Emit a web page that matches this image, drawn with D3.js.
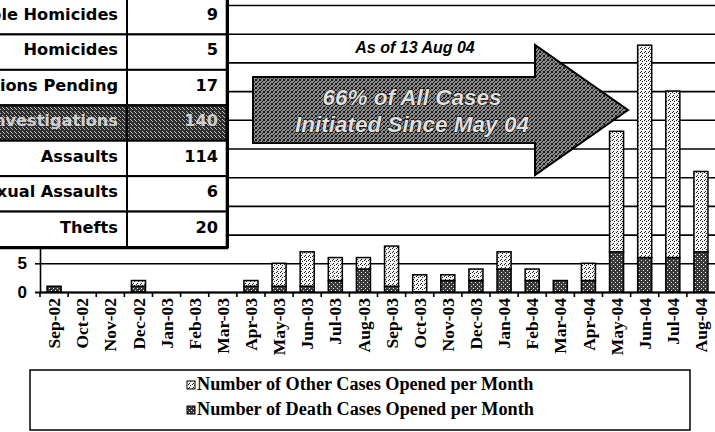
<!DOCTYPE html>
<html>
<head>
<meta charset="utf-8">
<script src="https://cdn.jsdelivr.net/npm/d3@7"></script>
<style>
  body { margin: 0; background: #fff; }
  svg { display: block; }
</style>
</head>
<body>
<div class="canvas"></div>
<script>
// values
const months = [
  "Sep-02", "Oct-02", "Nov-02", "Dec-02", "Jan-03", "Feb-03", "Mar-03", "Apr-03",
  "May-03", "Jun-03", "Jul-03", "Aug-03", "Sep-03", "Oct-03", "Nov-03", "Dec-03",
  "Jan-04", "Feb-04", "Mar-04", "Apr-04", "May-04", "Jun-04", "Jul-04", "Aug-04",
];
const deathCases = [1, 0, 0, 1, 0, 0, 0, 1, 1, 1, 2, 4, 1, 0, 2, 2, 4, 2, 2, 2, 7, 6, 6, 7];
const otherCases = [0, 0, 0, 1, 0, 0, 0, 1, 4, 6, 4, 2, 7, 3, 1, 2, 3, 2, 0, 3, 21, 37, 29, 14];
const yTicks = [0, 5, 10, 15, 20, 25, 30, 35, 40, 45, 50];

const tableLabels = [
  "Justifiable Homicides", "Homicides", "Determinations Pending",
  "Other Investigations", "Assaults", "Sexual Assaults", "Thefts",
];
const tableValues = [9, 5, 17, 140, 114, 6, 20];
const highlightRow = 3;

const legendLabels = [
  "Number of Other Cases Opened per Month",
  "Number of Death Cases Opened per Month",
];

const width = 715, height = 432;
const svg = d3.select(".canvas").append("svg")
  .attr("width", width).attr("height", height);

// speckled fills to imitate the photocopied hatching
const defs = svg.append("defs");
const addPattern = (id, bg, fg, dots) => {
  const p = defs.append("pattern").attr("id", id)
    .attr("width", 4).attr("height", 4).attr("patternUnits", "userSpaceOnUse");
  p.append("rect").attr("width", 4).attr("height", 4).attr("fill", bg);
  dots.forEach(([dx, dy]) => p.append("rect").attr("x", dx).attr("y", dy)
    .attr("width", 1).attr("height", 1).attr("fill", fg));
};
addPattern("otherFill", "#f2f2f2", "#222", [[0, 0], [2, 1], [1, 3]]);
addPattern("deathFill", "#3a3a3a", "#e8e8e8", [[1, 0], [3, 2]]);
addPattern("arrowFill", "#8c8c8c", "#1a1a1a", [[0, 0], [2, 1], [1, 2], [3, 3], [0, 3], [3, 0]]);
addPattern("rowFill", "#2e2e2e", "#bbb", [[0, 1], [2, 3], [3, 0]]);

const left = 40, right = 715, base = 292, tableBottom = 247;
const x = d3.scaleBand().domain(months).range([left, right])
  .paddingInner(0.5).paddingOuter(0.25);
const y = d3.scaleLinear().domain([0, 50]).range([base, 5]);
const gap = (x.step() - x.bandwidth()) / 2;

// gridlines + y labels
const yAxis = svg.append("g").attr("transform", `translate(${left},0)`)
  .call(d3.axisLeft(y).tickValues(yTicks).tickSize(5).tickPadding(8));
yAxis.selectAll(".tick").append("line").attr("x1", 0).attr("x2", right - left)
  .attr("stroke", "#000").attr("stroke-width", 1.6);
yAxis.selectAll(".tick line").attr("stroke", "#000").attr("stroke-width", 1.6);
yAxis.select(".domain").attr("stroke", "#000").attr("stroke-width", 1.6);
yAxis.selectAll("text").attr("font-family", "Liberation Sans, Arial, sans-serif")
  .attr("font-weight", "bold").attr("font-size", 17).attr("fill", "#000");
// labels that sit under the table are not visible in the original
yAxis.selectAll(".tick text").filter((d) => y(d) < tableBottom).remove();

// stacked bars
const stacked = months.map((m, i) => ({ month: m, death: deathCases[i], other: otherCases[i] }));
const barG = svg.append("g");
barG.selectAll("rect.death").data(stacked.filter((d) => d.death > 0)).join("rect").attr("class", "death")
  .attr("x", (d) => x(d.month)).attr("width", x.bandwidth())
  .attr("y", (d) => y(d.death)).attr("height", (d) => y(0) - y(d.death))
  .attr("fill", "url(#deathFill)").attr("stroke", "#000").attr("stroke-width", 1.5);
barG.selectAll("rect.other").data(stacked.filter((d) => d.other > 0)).join("rect").attr("class", "other")
  .attr("x", (d) => x(d.month)).attr("width", x.bandwidth())
  .attr("y", (d) => y(d.death + d.other)).attr("height", (d) => y(d.death) - y(d.death + d.other))
  .attr("fill", "url(#otherFill)").attr("stroke", "#000").attr("stroke-width", 1.5);

// x axis: labels under each bar, ticks on the category boundaries
const xAxis = svg.append("g").attr("transform", `translate(0,${base})`)
  .call(d3.axisBottom(x).tickSize(0));
xAxis.select(".domain").attr("stroke", "#000").attr("stroke-width", 2);
xAxis.selectAll("text")
  .attr("transform", "rotate(-90)").attr("text-anchor", "end")
  .attr("x", -6).attr("y", 0).attr("dy", "0.35em")
  .attr("font-family", "Liberation Serif, Times New Roman, serif")
  .attr("font-weight", "bold").attr("font-size", 17.5).attr("fill", "#000");
svg.append("g").selectAll("line").data(months).join("line")
  .attr("x1", (d) => x(d) - gap).attr("x2", (d) => x(d) - gap)
  .attr("y1", base).attr("y2", base + 5)
  .attr("stroke", "#000").attr("stroke-width", 1.6);

// table overlay at the top-left
const rows = d3.scaleBand().domain(tableLabels).range([-1, tableBottom]);
const table = svg.append("g");
table.append("rect").attr("x", -10).attr("y", -10).attr("width", 238).attr("height", tableBottom + 10)
  .attr("fill", "#fff");
table.selectAll("rect.row").data(tableLabels).join("rect").attr("class", "row")
  .attr("x", -10).attr("y", (d) => rows(d)).attr("width", 238).attr("height", rows.bandwidth())
  .attr("fill", (d, i) => (i === highlightRow ? "url(#rowFill)" : "#fff"))
  .attr("stroke", "#000").attr("stroke-width", 2);
table.append("line").attr("x1", 127).attr("x2", 127).attr("y1", -5).attr("y2", tableBottom)
  .attr("stroke", "#000").attr("stroke-width", 2);
table.append("path").attr("d", `M227,-5 V${tableBottom + 1} H-5`)
  .attr("fill", "none").attr("stroke", "#000").attr("stroke-width", 2.6);
const tFont = (sel) => sel.attr("font-family", "DejaVu Sans, sans-serif")
  .attr("font-weight", "bold").attr("font-size", 16.2)
  .attr("fill", (d, i) => (i === highlightRow ? "#cfcfcf" : "#000"));
table.selectAll("text.lab").data(tableLabels).join("text").attr("class", "lab")
  .attr("x", 118).attr("y", (d) => rows(d) + 21).attr("text-anchor", "end")
  .text((d) => d).call(tFont);
table.selectAll("text.val").data(tableValues).join("text").attr("class", "val")
  .attr("x", 218).attr("y", (d, i) => rows(tableLabels[i]) + 21).attr("text-anchor", "end")
  .text((d) => d).call(tFont);

// annotation
svg.append("text").attr("x", 415).attr("y", 53).attr("text-anchor", "middle")
  .attr("font-family", "Liberation Sans, Arial, sans-serif").attr("font-weight", "bold")
  .attr("font-style", "italic").attr("font-size", 16).text("As of 13 Aug 04");
svg.append("path")
  .attr("d", "M253,77 H535 V45 L628,110 L535,175 V143 H253 Z")
  .attr("fill", "url(#arrowFill)").attr("stroke", "#000").attr("stroke-width", 2);
svg.append("g").selectAll("text").data(["66% of All Cases", "Initiated Since May 04"]).join("text")
  .attr("x", 412).attr("y", (d, i) => 105 + i * 27).attr("text-anchor", "middle")
  .attr("font-family", "Liberation Sans, Arial, sans-serif").attr("font-weight", "bold")
  .attr("font-style", "italic").attr("font-size", 22.5)
  .attr("fill", "#e0e0e0").attr("stroke", "#000").attr("stroke-width", 1.2)
  .attr("paint-order", "stroke")
  .text((d) => d);

// legend
const legend = svg.append("g");
legend.append("rect").attr("x", 30).attr("y", 370).attr("width", 660).attr("height", 60)
  .attr("fill", "#fff").attr("stroke", "#000").attr("stroke-width", 1.5);
const items = legend.selectAll("g").data(legendLabels).join("g");
items.append("rect")
  .attr("x", 187).attr("y", (d, i) => 381 + i * 25).attr("width", 8).attr("height", 8)
  .attr("fill", (d, i) => (i === 0 ? "url(#otherFill)" : "url(#deathFill)"))
  .attr("stroke", "#000").attr("stroke-width", 1);
items.append("text").attr("x", 197).attr("y", (d, i) => 390 + i * 25)
  .attr("font-family", "Liberation Serif, Times New Roman, serif").attr("font-weight", "bold")
  .attr("font-size", 18.2).text((d) => d);
</script>
</body>
</html>
